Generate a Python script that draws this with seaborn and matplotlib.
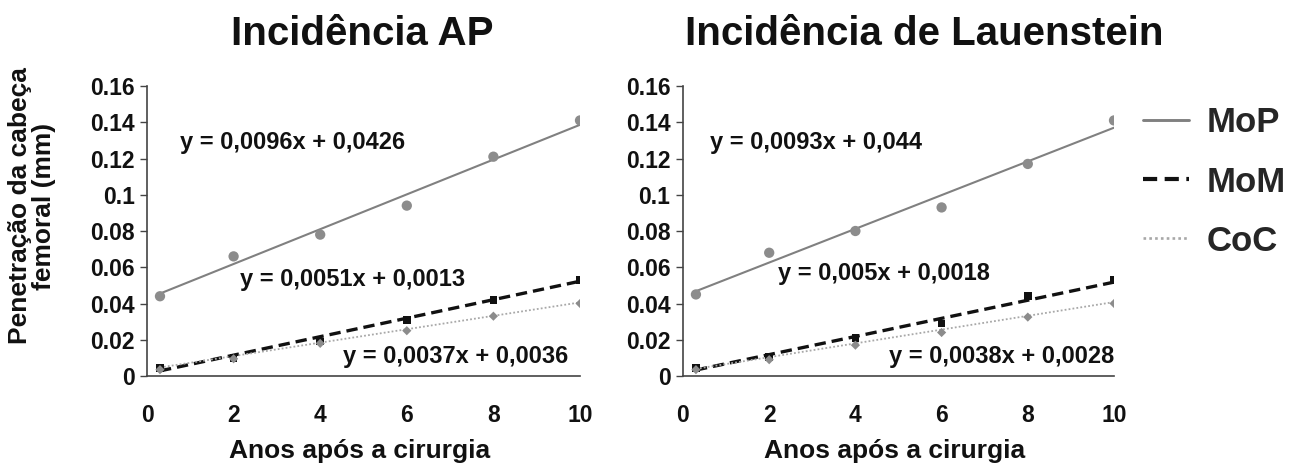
import matplotlib
matplotlib.use("Agg")
import matplotlib.pyplot as plt
import seaborn as sns
import numpy as np
import pandas as pd
from matplotlib.lines import Line2D

sns.set_theme(style="white")
plt.rcParams['font.family'] = ['Liberation Sans', 'DejaVu Sans']
plt.rcParams['font.weight'] = 'bold'

# Data
years = [0.3, 2, 4, 6, 8, 10]
series = ["MoP", "MoM", "CoC"]

ap_mop = [0.044, 0.066, 0.078, 0.094, 0.121, 0.141]
ap_mom = [0.0045, 0.010, 0.019, 0.031, 0.042, 0.053]
ap_coc = [0.0035, 0.0095, 0.018, 0.025, 0.033, 0.040]

lau_mop = [0.045, 0.068, 0.080, 0.093, 0.117, 0.141]
lau_mom = [0.0045, 0.0105, 0.021, 0.029, 0.044, 0.053]
lau_coc = [0.0035, 0.009, 0.017, 0.024, 0.0325, 0.040]

# trend-line coefficients (slope, intercept) shown on the chart
ap_slopes = [0.0096, 0.0051, 0.0037]
ap_intercepts = [0.0426, 0.0013, 0.0036]
lau_slopes = [0.0093, 0.005, 0.0038]
lau_intercepts = [0.044, 0.0018, 0.0028]

ap_eq = ["y = 0,0096x + 0,0426", "y = 0,0051x + 0,0013", "y = 0,0037x + 0,0036"]
lau_eq = ["y = 0,0093x + 0,044", "y = 0,005x + 0,0018", "y = 0,0038x + 0,0028"]

titles = ["Incidência AP", "Incidência de Lauenstein"]
xticks = [0, 2, 4, 6, 8, 10]
yticks = [0, 0.02, 0.04, 0.06, 0.08, 0.1, 0.12, 0.14, 0.16]
ytick_labels = ["0", "0.02", "0.04", "0.06", "0.08", "0.1", "0.12", "0.14", "0.16"]

styles = {
    "MoP": dict(color="#808080", ls="-", lw=1.5, marker="o", mcolor="#8c8c8c", ms=55),
    "MoM": dict(color="#111111", ls=(0, (3.4, 1.8)), lw=2.4, marker="s", mcolor="#111111", ms=30),
    "CoC": dict(color="#a8a8a8", ls=(0, (1, 1.2)), lw=1.3, marker="D", mcolor="#8c8c8c", ms=22),
}

W, H = 1298, 473
fig = plt.figure(figsize=(W / 100, H / 100), dpi=100)
ax1 = fig.add_axes([147 / W, 1 - 376 / H, (580 - 147) / W, (376 - 86) / H])
ax2 = fig.add_axes([683 / W, 1 - 376 / H, (1114 - 683) / W, (376 - 86) / H])

panels = [
    (ax1, [ap_mop, ap_mom, ap_coc], ap_slopes, ap_intercepts, ap_eq,
     [(0.76, 0.129), (2.15, 0.0535), (4.53, 0.0105)], 362),
    (ax2, [lau_mop, lau_mom, lau_coc], lau_slopes, lau_intercepts, lau_eq,
     [(0.62, 0.129), (2.2, 0.0568), (4.79, 0.0105)], 924),
]

for (ax, vals, slopes, inters, eqs, eqpos, tcx), title in zip(panels, titles):
    for name, v, m, b in zip(series, vals, slopes, inters):
        st = styles[name]
        df = pd.DataFrame({"x": years, "y": v})
        fit = pd.DataFrame({"x": [years[0], years[-1]],
                            "y": [m * years[0] + b, m * years[-1] + b]})
        sns.lineplot(data=fit, x="x", y="y", ax=ax, color=st["color"],
                     linestyle=st["ls"], linewidth=st["lw"])
        sns.scatterplot(data=df, x="x", y="y", ax=ax, color=st["mcolor"],
                        marker=st["marker"], s=st["ms"], edgecolor="none", zorder=3)
    for txt, (tx, ty) in zip(eqs, eqpos):
        ax.text(tx, ty, txt, fontsize=17, fontweight="bold", color="#111111",
                va="center", ha="left")
    ax.set_xlim(0, 10)
    ax.set_ylim(0, 0.16)
    ax.set_xticks(xticks)
    ax.set_yticks(yticks)
    ax.set_yticklabels(ytick_labels)
    ax.tick_params(axis="y", which="major", direction="out", length=5, width=1,
                   color="#444444", left=True, labelsize=16.5, pad=4)
    ax.tick_params(axis="x", length=0, labelsize=16.5, pad=20)
    for lab in ax.get_xticklabels() + ax.get_yticklabels():
        lab.set_fontweight("bold")
        lab.set_color("#111111")
    for s in ["top", "right"]:
        ax.spines[s].set_visible(False)
    for s in ["left", "bottom"]:
        ax.spines[s].set_color("#444444")
        ax.spines[s].set_linewidth(1.2)
    ax.set_xlabel("Anos após a cirurgia", fontsize=19, fontweight="bold", color="#111111")
    ax.xaxis.set_label_coords(0.49, (376 - 451) / 290)
    ax.xaxis.label.set_va("center")
    ax.set_ylabel("")
    fig.text(tcx / W, 1 - 45 / H, title, fontsize=29, fontweight="bold",
             ha="center", va="baseline", color="#111111")

ax1.set_ylabel("Penetração da cabeça\nfemoral (mm)", fontsize=19, fontweight="bold",
               linespacing=0.95, color="#111111")
ax1.yaxis.set_label_coords((32 - 147) / 433, (376 - 206) / 290)
ax1.yaxis.label.set_va("center")

handles = [Line2D([0], [0], color=styles[n]["color"], linestyle=styles[n]["ls"],
                  linewidth=styles[n]["lw"] + 0.6) for n in series]
fig.legend(handles, series, loc="center left", bbox_to_anchor=(1143 / W, 1 - 182 / H),
           frameon=False, prop={"weight": "bold", "size": 25}, handlelength=1.33,
           labelspacing=0.75, handletextpad=0.5, borderpad=0, borderaxespad=0)

fig.savefig("out.png", dpi=100, facecolor="white")
